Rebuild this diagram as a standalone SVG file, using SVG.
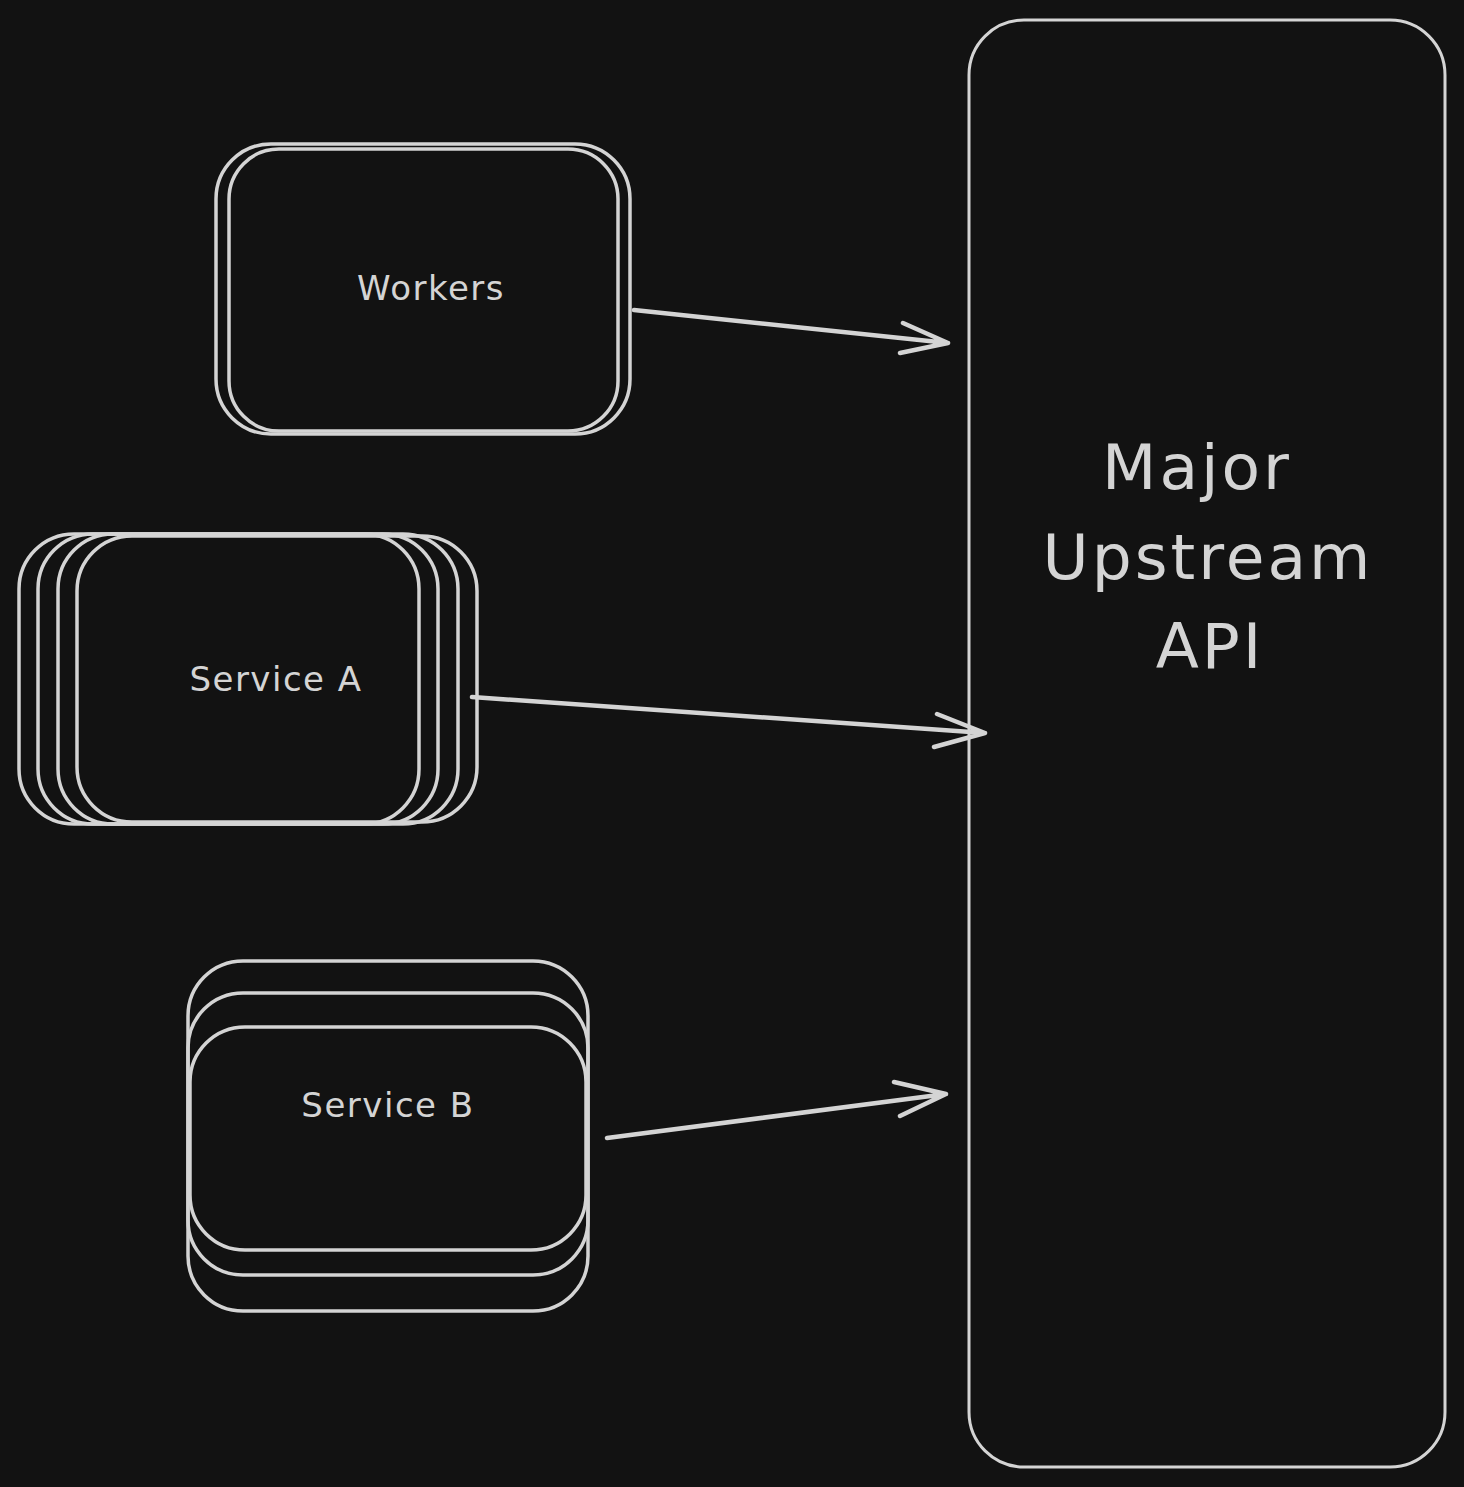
<svg xmlns="http://www.w3.org/2000/svg" width="1464" height="1487" viewBox="0 0 1464 1487">
<style>
.box{fill:none;stroke:#d4d4d4;stroke-width:3.5;stroke-linejoin:round}
.lbl{font-family:"DejaVu Sans","Liberation Sans",sans-serif;fill:#d4d4d4;text-anchor:middle}
.sm{font-size:34px;letter-spacing:1.5px}
.lg{font-size:63px;letter-spacing:3px}
.conn{fill:none;stroke:#d4d4d4;stroke-width:4.5;stroke-linecap:round;stroke-linejoin:round}
</style>
<rect width="1464" height="1487" fill="#121212"/>
<g id="upstream">
<rect class="box" x="969" y="20" width="476" height="1447" rx="55" style="stroke-width:3"/>
<text class="lbl lg" x="1197" y="489">Major</text>
<text class="lbl lg" x="1208" y="579">Upstream</text>
<text class="lbl lg" x="1210" y="668">API</text>
</g>
<g id="workers">
<rect class="box" x="216" y="144" width="414" height="290" rx="55"/>
<rect class="box" x="229" y="149" width="389" height="282" rx="50"/>
<text class="lbl sm" x="431" y="300">Workers</text>
</g>
<g id="serviceA">
<rect class="box" x="19" y="534" width="400" height="290" rx="55"/>
<rect class="box" x="38" y="534" width="400" height="290" rx="55"/>
<rect class="box" x="58" y="534" width="400" height="290" rx="55"/>
<rect class="box" x="77" y="536" width="400" height="286" rx="55"/>
<text class="lbl sm" x="276" y="691">Service A</text>
</g>
<g id="serviceB">
<rect class="box" x="188" y="961" width="400" height="350" rx="55"/>
<rect class="box" x="188" y="993" width="400" height="282" rx="55"/>
<rect class="box" x="190" y="1027" width="396" height="223" rx="55"/>
<text class="lbl sm" x="388" y="1117">Service B</text>
</g>
<g id="connectors">
<path class="conn" d="M634 310 L948 343 M903 323 L948 343 L900 353"/>
<path class="conn" d="M472 697 L985 733 M937 714 L985 733 L934 747"/>
<path class="conn" d="M607 1138 L946 1094 M894 1082 L946 1094 L900 1116"/>
</g>
</svg>
